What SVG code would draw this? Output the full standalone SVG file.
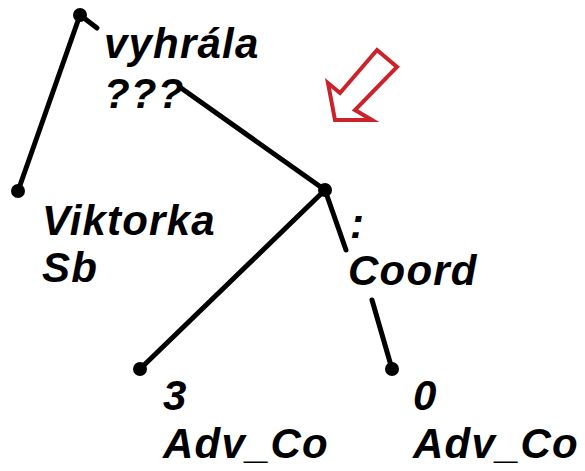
<svg xmlns="http://www.w3.org/2000/svg" width="585" height="471" viewBox="0 0 585 471">
<style>
.t{font-family:"Liberation Sans",Arial,sans-serif;font-weight:bold;font-style:italic;font-size:42px;letter-spacing:1.2px;fill:#000}
.e{stroke:#000;stroke-width:5;fill:none;stroke-linecap:round}
.n{fill:#000}
</style>
<rect width="585" height="471" fill="#fff"/>
<g id="connectors">
<line class="e" x1="80" y1="15" x2="18" y2="191"/>
<line class="e" x1="80" y1="15" x2="97" y2="28"/>
<line class="e" x1="181" y1="88" x2="325" y2="190"/>
<line class="e" x1="325" y1="190" x2="140" y2="369"/>
<line class="e" x1="325" y1="190" x2="346" y2="250"/>
<line class="e" x1="372" y1="300" x2="392" y2="369"/>
</g>
<g id="root"><circle class="n" cx="80" cy="15" r="7"/></g>
<g id="node-viktorka"><circle class="n" cx="18" cy="191" r="7"/>
<text class="t" x="42" y="235">Viktorka</text><text class="t" x="42" y="282">Sb</text></g>
<g id="node-vyhrala"><circle class="n" cx="325" cy="190" r="7"/>
<text class="t" x="104" y="58">vyhrála</text><text class="t" x="104" y="108">???</text>
<text class="t" x="350" y="238">:</text><text class="t" x="348" y="285">Coord</text></g>
<g id="node-3"><circle class="n" cx="140" cy="369" r="7"/>
<text class="t" x="163" y="410">3</text><text class="t" x="163" y="458">Adv_Co</text></g>
<g id="node-0"><circle class="n" cx="392" cy="369" r="7"/>
<text class="t" x="413" y="410">0</text><text class="t" x="413" y="458">Adv_Co</text></g>
<g id="arrow"><polygon points="377,50 397,67 355,110 372,120 335,120 328,83 340,93" fill="none" stroke="#cc2229" stroke-width="4" stroke-linejoin="miter"/></g>
</svg>
